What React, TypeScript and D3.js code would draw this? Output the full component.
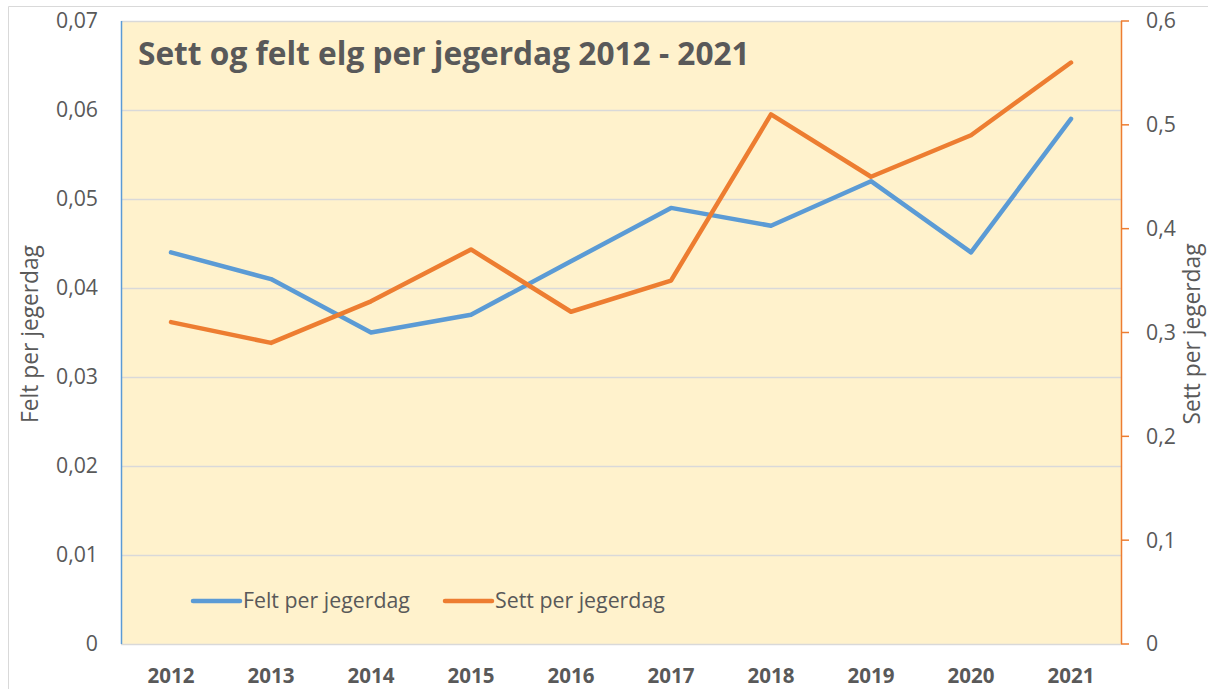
import React, { useRef, useEffect } from 'react';
import * as d3 from 'd3';

const years = ['2012', '2013', '2014', '2015', '2016', '2017', '2018', '2019', '2020', '2021'];
const felt = [0.044, 0.041, 0.035, 0.037, 0.043, 0.049, 0.047, 0.052, 0.044, 0.059];
const sett = [0.31, 0.29, 0.33, 0.38, 0.32, 0.35, 0.51, 0.45, 0.49, 0.56];
const leftTicks = [0, 0.01, 0.02, 0.03, 0.04, 0.05, 0.06, 0.07];
const rightTicks = [0, 0.1, 0.2, 0.3, 0.4, 0.5, 0.6];

const blue = '#5B9BD5';
const orange = '#ED7D31';
const textCol = '#595959';
const font = '"Open Sans", Lato, sans-serif';

const App: React.FC = () => {
  const ref = useRef<SVGSVGElement>(null);

  useEffect(() => {
    const W = 1208, H = 689;
    const left = 121, right = 1121, top = 21, bottom = 644;
    const svg = d3.select(ref.current!).attr('width', W).attr('height', H);
    svg.selectAll('*').remove();

    // font size that makes a sample string as wide as in the picture
    const sizeFor = (sample: string, width: number, weight = 'normal') => {
      const t = svg.append('text').attr('font-family', font).attr('font-size', 20)
        .attr('font-weight', weight).text(sample);
      const w = (t.node() as SVGTextElement).getComputedTextLength();
      t.remove();
      return w > 0 ? 20 * width / w : 20;
    };
    const tickSize = sizeFor('0,06', 42);
    const yearSize = sizeFor('2012', 47, 'bold');
    const legendSize = sizeFor('Felt per jegerdag', 167);
    const axisTitleSize = sizeFor('Felt per jegerdag', 178);
    const titleSize = sizeFor('Sett og felt elg per jegerdag 2012 - 2021', 612, 'bold');

    svg.append('rect').attr('width', W).attr('height', H).attr('fill', '#fff');
    // cropped text of the frame above
    svg.append('text').attr('x', 176).attr('y', -5).attr('font-family', font).attr('font-size', legendSize)
      .attr('fill', '#000').text('jegerdag');
    // outer chart frame
    svg.append('path').attr('d', `M8.5,${H} V6.5 H${W}`).attr('fill', 'none').attr('stroke', '#d9d9d9');

    const x = d3.scaleBand().domain(years).range([left, right]);
    const yL = d3.scaleLinear().domain([0, 0.07]).range([bottom, top]);
    const yR = d3.scaleLinear().domain([0, 0.6]).range([bottom, top]);

    svg.append('rect').attr('x', left).attr('y', top).attr('width', right - left).attr('height', bottom - top)
      .attr('fill', '#FFF2CC');

    // gridlines
    svg.append('g').selectAll('line').data(leftTicks.slice(1)).join('line')
      .attr('x1', left).attr('x2', right)
      .attr('y1', d => Math.round(yL(d)) + 0.5).attr('y2', d => Math.round(yL(d)) + 0.5)
      .attr('stroke', '#d9d9d9').attr('stroke-width', 1.5);
    // bottom axis line
    svg.append('line').attr('x1', left).attr('x2', right).attr('y1', bottom + 0.5).attr('y2', bottom + 0.5)
      .attr('stroke', '#d9d9d9').attr('stroke-width', 1.5);

    // left axis
    svg.append('line').attr('x1', left + 0.5).attr('x2', left + 0.5).attr('y1', top).attr('y2', bottom)
      .attr('stroke', blue).attr('stroke-width', 1.5);
    svg.append('g').selectAll('text').data(leftTicks).join('text')
      .attr('x', 98).attr('y', d => yL(d)).attr('dy', '0.35em').attr('text-anchor', 'end')
      .attr('font-family', font).attr('font-size', tickSize).attr('fill', textCol)
      .text(d => (d === 0 ? '0' : d3.format('.2f')(d).replace('.', ',')));

    // right axis
    svg.append('line').attr('x1', right + 0.5).attr('x2', right + 0.5).attr('y1', top).attr('y2', bottom)
      .attr('stroke', orange).attr('stroke-width', 1.5);
    svg.append('g').selectAll('line').data(rightTicks).join('line')
      .attr('x1', right).attr('x2', right + 8)
      .attr('y1', d => yR(d)).attr('y2', d => yR(d))
      .attr('stroke', orange).attr('stroke-width', 1.5);
    svg.append('g').selectAll('text').data(rightTicks).join('text')
      .attr('x', 1146).attr('y', d => yR(d)).attr('dy', '0.35em').attr('text-anchor', 'start')
      .attr('font-family', font).attr('font-size', tickSize).attr('fill', textCol)
      .text(d => (d === 0 ? '0' : d3.format('.1f')(d).replace('.', ',')));

    // x labels
    svg.append('g').selectAll('text').data(years).join('text')
      .attr('x', d => x(d)! + x.bandwidth() / 2).attr('y', 683).attr('text-anchor', 'middle')
      .attr('font-family', font).attr('font-size', yearSize).attr('font-weight', 'bold').attr('fill', textCol)
      .text(d => d);

    // axis titles
    svg.append('text').attr('transform', 'translate(38,334) rotate(-90)').attr('text-anchor', 'middle')
      .attr('font-family', font).attr('font-size', axisTitleSize).attr('fill', textCol).text('Felt per jegerdag');
    svg.append('text').attr('transform', 'translate(1200,334) rotate(-90)').attr('text-anchor', 'middle')
      .attr('font-family', font).attr('font-size', axisTitleSize).attr('fill', textCol).text('Sett per jegerdag');

    // title
    svg.append('text').attr('x', 138).attr('y', 65).attr('font-family', font).attr('font-size', titleSize)
      .attr('font-weight', 'bold').attr('fill', textCol).text('Sett og felt elg per jegerdag 2012 - 2021');

    const cx = (i: number) => x(years[i])! + x.bandwidth() / 2;
    const lineL = d3.line<number>().x((_, i) => cx(i)).y(d => yL(d));
    const lineR = d3.line<number>().x((_, i) => cx(i)).y(d => yR(d));

    svg.append('path').datum(felt).attr('d', lineL).attr('fill', 'none').attr('stroke', blue)
      .attr('stroke-width', 4.5).attr('stroke-linejoin', 'round').attr('stroke-linecap', 'round');
    svg.append('path').datum(sett).attr('d', lineR).attr('fill', 'none').attr('stroke', orange)
      .attr('stroke-width', 4.5).attr('stroke-linejoin', 'round').attr('stroke-linecap', 'round');

    // legend
    const legend = [
      { name: 'Felt per jegerdag', color: blue, x: 193 },
      { name: 'Sett per jegerdag', color: orange, x: 445 },
    ];
    const lg = svg.append('g').selectAll('g').data(legend).join('g')
      .attr('transform', d => `translate(${d.x},601)`);
    lg.append('line').attr('x1', 0).attr('x2', 47).attr('stroke', d => d.color)
      .attr('stroke-width', 4.5).attr('stroke-linecap', 'round');
    lg.append('text').attr('x', 50).attr('dy', '0.35em').attr('font-family', font).attr('font-size', legendSize)
      .attr('fill', textCol).text(d => d.name);
  }, []);

  return <svg ref={ref} style={{ position: 'absolute', left: 0, top: 0 }}></svg>;
};

export default App;
